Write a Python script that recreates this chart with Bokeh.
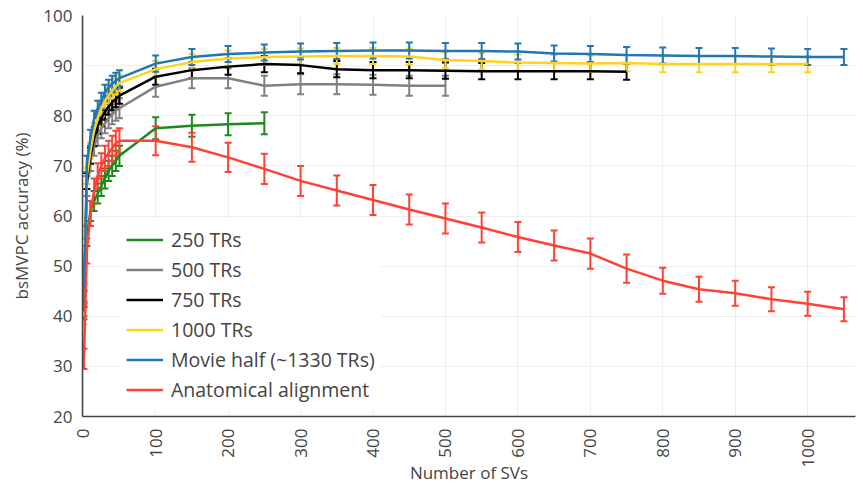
import math
from bokeh.plotting import figure
from bokeh.models import Range1d, Legend, LegendItem, Whisker, TeeHead, ColumnDataSource, FixedTicker
from bokeh.embed import file_html
from bokeh.resources import INLINE

early = [1, 5, 10, 15, 20, 25, 30, 35, 40, 45, 50]
late = [100, 150, 200, 250, 300, 350, 400, 450, 500, 550, 600, 650, 700, 750, 800, 850, 900, 950, 1000, 1050]

x_250 = early + late[:4]
y_250 = [41.5, 56, 61, 63, 64.5, 66, 67.5, 69, 70, 71, 72, 77.5, 78.0, 78.3, 78.5]
e_250 = [1.5, 2, 2, 2, 2, 2, 2, 2, 2, 2, 2, 2.2, 2.2, 2.2, 2.2]

x_500 = early + late[:9]
y_500 = [44.5, 66, 71, 74, 76, 77.5, 78.5, 79.5, 80.3, 81, 81.5, 85.8, 87.5, 87.5, 86.0, 86.3, 86.3, 86.2, 86.0, 86.0]
e_500 = [2] * len(x_500)

x_750 = early + late[:14]
y_750 = [43.5, 67, 72, 75.5, 78, 79.5, 80.8, 81.8, 82.7, 83.3, 84, 87.8, 89.1, 89.8, 90.3, 90.1, 89.3, 89.1, 89.1, 89.0, 88.9, 88.9, 88.9, 88.9, 88.8]
e_750 = [1.6] * len(x_750)

x_1000 = early + late[:19]
y_1000 = [40, 68, 73, 77, 79.5, 81.5, 83, 84, 85, 85.8, 86.5, 89.3, 90.7, 91.4, 91.7, 91.8, 91.9, 91.9, 91.8, 91.1, 90.9, 90.6, 90.5, 90.4, 90.5, 90.3, 90.3, 90.3, 90.3, 90.3]
e_1000 = [1.6] * len(x_1000)

x_movie = early + late
y_movie = [41, 70.4, 75.6, 79.4, 81.4, 83, 84.6, 85.6, 86.4, 87, 87.5, 90.4, 91.7, 92.3, 92.6, 92.8, 92.9, 93.0, 93.0, 92.9, 92.9, 92.8, 92.4, 92.3, 92.1, 92.0, 91.9, 91.9, 91.8, 91.7, 91.7]
e_movie = [1.6] * len(x_movie)

x_anat = early + late
y_anat = [31.5, 53, 60.5, 65, 68, 70, 71.5, 72.5, 73.5, 74.5, 75, 75, 73.7, 71.7, 69.4, 67.0, 65.1, 63.2, 61.3, 59.5, 57.7, 55.8, 54.1, 52.5, 49.5, 47.1, 45.4, 44.6, 43.4, 42.5, 41.4]
e_anat = [2, 2.5, 2.5, 2.5, 2.5, 2.5, 2.5, 2.5, 2.5, 2.5, 2.5, 2.9, 2.9, 2.9, 3, 3, 3, 3, 3, 3, 3, 3, 3, 3, 2.8, 2.6, 2.5, 2.5, 2.4, 2.4, 2.4]

names = ["250 TRs", "500 TRs", "750 TRs", "1000 TRs", "Movie half (~1330 TRs)", "Anatomical alignment"]
colors = ["#1e8a1e", "#808080", "#000000", "#ffd21f", "#1f77b4", "#ff4136"]
series = [(x_250, y_250, e_250), (x_500, y_500, e_500), (x_750, y_750, e_750),
          (x_1000, y_1000, e_1000), (x_movie, y_movie, e_movie), (x_anat, y_anat, e_anat)]

x_ticks = [0, 100, 200, 300, 400, 500, 600, 700, 800, 900, 1000]
y_ticks = [20, 30, 40, 50, 60, 70, 80, 90, 100]

FONT = "Open Sans"
TXT = "#444444"

p = figure(width=863, height=487, output_backend="svg", toolbar_location=None,
           x_range=Range1d(-1, 1066), y_range=Range1d(20, 100),
           min_border_left=82, min_border_right=8, min_border_top=15, min_border_bottom=71)
p.outline_line_color = None
p.background_fill_color = "white"
p.border_fill_color = "white"

p.xgrid.grid_line_color = "#eeeeee"
p.ygrid.grid_line_color = "#eeeeee"
p.xgrid.ticker = FixedTicker(ticks=x_ticks)
p.ygrid.ticker = FixedTicker(ticks=y_ticks)
p.xaxis.ticker = FixedTicker(ticks=x_ticks)
p.yaxis.ticker = FixedTicker(ticks=y_ticks)

for ax in (p.xaxis, p.yaxis):
    ax.axis_line_color = "#444444"
    ax.axis_line_width = 1.5
    ax.major_tick_line_color = None
    ax.minor_tick_line_color = None
    ax.major_label_text_font = FONT
    ax.major_label_text_font_size = "17px"
    ax.major_label_text_color = TXT
    ax.axis_label_text_font = FONT
    ax.axis_label_text_font_style = "normal"
    ax.axis_label_text_color = TXT

p.xaxis.major_label_orientation = math.pi / 2
p.xaxis.major_label_standoff = 6
p.xaxis.axis_label = "Number of SVs"
p.xaxis.axis_label_text_font_size = "17px"
p.xaxis.axis_label_standoff = -9
p.yaxis.major_label_standoff = 4
p.yaxis.axis_label = "bsMVPC accuracy (%)"
p.yaxis.axis_label_text_font_size = "17px"
p.yaxis.axis_label_standoff = 7

items = []
for name, color, (xs, ys, es) in zip(names, colors, series):
    src = ColumnDataSource(dict(x=xs, y=ys,
                                lo=[v - e for v, e in zip(ys, es)],
                                hi=[v + e for v, e in zip(ys, es)]))
    r = p.line("x", "y", source=src, line_color=color, line_width=2.5)
    w = Whisker(source=src, base="x", lower="lo", upper="hi", line_color=color, line_width=2,
                upper_head=TeeHead(size=7, line_color=color, line_width=2),
                lower_head=TeeHead(size=7, line_color=color, line_width=2))
    p.add_layout(w)
    items.append(LegendItem(label=name, renderers=[r]))

legend = Legend(items=items, location=(38, 6))
legend.label_text_font = FONT
legend.label_text_font_size = "19.5px"
legend.label_text_color = TXT
legend.label_standoff = 8
legend.glyph_width = 37
legend.glyph_height = 29
legend.label_height = 29
legend.spacing = 1
legend.padding = 6
legend.border_line_alpha = 0
legend.background_fill_alpha = 1
legend.background_fill_color = "white"
p.add_layout(legend, "center")

open("out.html", "w").write(file_html(p, INLINE))
